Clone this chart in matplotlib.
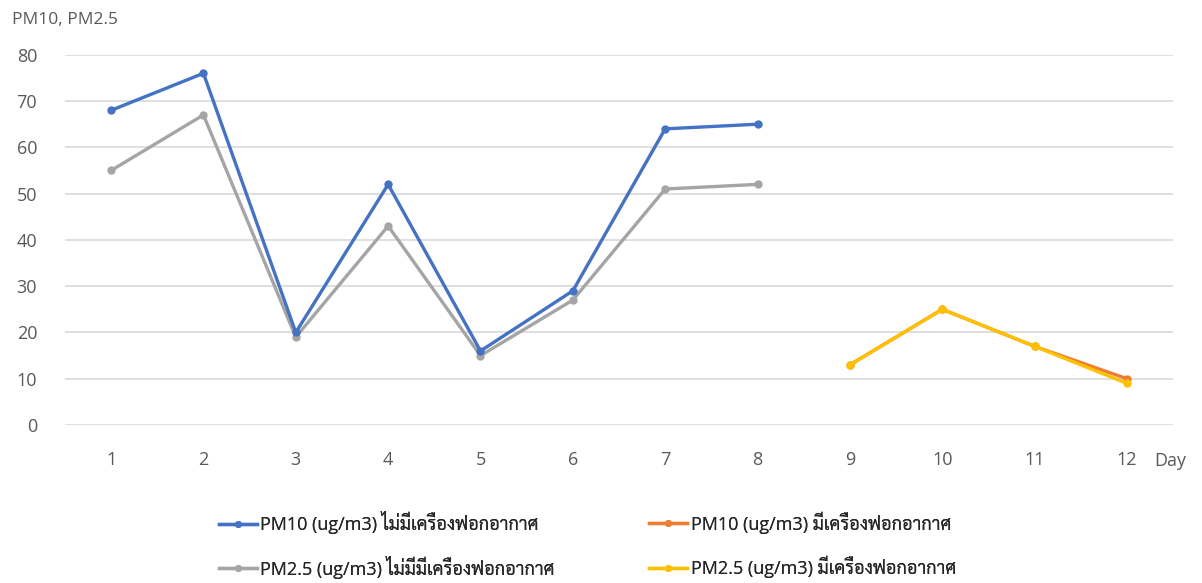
import matplotlib
matplotlib.use("Agg")
import matplotlib.pyplot as plt
from matplotlib.lines import Line2D

days = list(range(1, 13))
days_without = days[:8]
days_with = days[8:]

pm10_without = [68, 76, 20, 52, 16, 29, 64, 65]
pm25_without = [55, 67, 19, 43, 15, 27, 51, 52]
pm10_with = [13, 25, 17, 10]
pm25_with = [13, 25, 17, 9]

label_pm10_without = "PM10 (ug/m3) ไม่มีเครื่องฟอกอากาศ"
label_pm10_with = "PM10 (ug/m3) มีเครื่องฟอกอากาศ"
label_pm25_without = "PM2.5 (ug/m3) ไม่มีมีเครื่องฟอกอากาศ"
label_pm25_with = "PM2.5 (ug/m3) มีเครื่องฟอกอากาศ"

BLUE = "#4472C4"
ORANGE = "#ED7D31"
GRAY = "#A5A5A5"
YELLOW = "#FFC000"
TEXT = "#595959"

# Latin glyphs from Open Sans, Thai glyphs fall through to Sarabun
plt.rcParams["font.family"] = ["Open Sans", "Sarabun", "DejaVu Sans"]

fig = plt.figure(figsize=(12.02, 5.83), dpi=100)
ax = fig.add_axes([0.054, 0.271, 0.922, 0.635])

line_kw = dict(lw=2.4, marker="o", ms=5)
ax.plot(days_without, pm10_without, color=BLUE, zorder=4, **line_kw)
ax.plot(days_without, pm25_without, color=GRAY, zorder=3, **line_kw)
ax.plot(days_with, pm10_with, color=ORANGE, zorder=3, **line_kw)
ax.plot(days_with, pm25_with, color=YELLOW, zorder=4, **line_kw)

ax.set_xlim(0.5, 12.5)
ax.set_ylim(0, 80)
ax.set_yticks(range(0, 81, 10))
ax.set_xticks(days)
ax.grid(axis="y", color="#D9D9D9", lw=1.2)
ax.set_axisbelow(True)
for side in ax.spines.values():
    side.set_visible(False)
ax.tick_params(length=0, labelsize=13, colors=TEXT)
ax.tick_params(axis="y", pad=20)
ax.tick_params(axis="x", pad=19)

fig.text(0.010, 0.966, "PM10, PM2.5", fontsize=12.5, color=TEXT, va="center", ha="left")
fig.text(0.960, 0.209, "Day", fontsize=13, color=TEXT, va="center", ha="left")

# one legend per entry so each sits where the two-by-two grid needs it
entries = [
    (BLUE, label_pm10_without, 0.182, 0.104),
    (ORANGE, label_pm10_with, 0.540, 0.104),
    (GRAY, label_pm25_without, 0.182, 0.027),
    (YELLOW, label_pm25_with, 0.540, 0.027),
]
for color, label, x, y in entries:
    handle = Line2D([], [], color=color, lw=2.4, marker="o", ms=4)
    leg = fig.legend([handle], [label], loc="center left", bbox_to_anchor=(x, y),
                     frameon=False, fontsize=13, handlelength=2.1, handletextpad=0.2,
                     borderpad=0, borderaxespad=0, labelcolor="#262626")
    fig.add_artist(leg)

fig.savefig("out.png", dpi=100)
